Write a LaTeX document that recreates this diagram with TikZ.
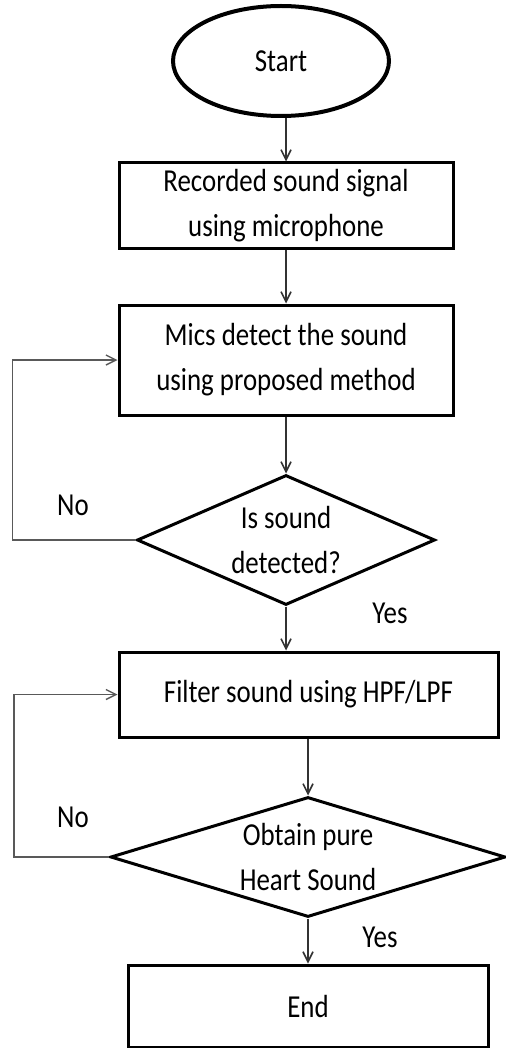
\documentclass[tikz,border=0pt]{standalone}
\usepackage{fontspec}
\setmainfont{Carlito}[FakeStretch=0.84]
\usetikzlibrary{shapes.geometric,arrows.meta,positioning}

\begin{document}
\begin{tikzpicture}[x=0.5pt,y=-0.5pt,
 font=\fontsize{16pt}{22.5pt}\selectfont,
 term/.style={draw,ellipse,line width=2pt,minimum width=108pt,minimum height=55pt,inner sep=0pt},
 proc/.style={draw,line width=1.5pt,align=center,inner sep=0pt},
 decide/.style={draw,diamond,line width=1.5pt,align=center,inner sep=-20pt},
 lbl/.style={inner sep=0pt},
 flow/.style={draw=black!80,line width=0.8pt,-{Straight Barb[length=5pt,width=5pt]}},
 backflow/.style={draw=black!65,line width=0.7pt,-{Straight Barb[length=5pt,width=5pt]}}]
\useasboundingbox (0,0) rectangle (505,1048);
\node[term] (start) at (281,61) {Start};
\node[proc,minimum width=167pt,minimum height=42.5pt] (rec) at (286,205.5) {Recorded sound signal\\using microphone};
\node[proc,minimum width=167pt,minimum height=55pt] (mics) at (286,360) {Mics detect the sound\\using proposed method};
\node[decide,minimum width=149pt,minimum height=65pt] (isdet) at (286,540) {Is sound\\detected?};
\node[proc,minimum width=189.5pt,minimum height=42.5pt] (filt) at (308.5,694.5) {Filter sound using HPF/LPF};
\node[decide,minimum width=197.5pt,minimum height=60pt] (pure) at (308,857) {Obtain pure\\Heart Sound};
\node[proc,minimum width=180pt,minimum height=41pt] (stop) at (308,1006) {End};
% labels
\node[lbl] (no1) at (73,505) {No};
\node[lbl] (yes1) at (390,613) {Yes};
\node[lbl] (no2) at (73,817) {No};
\node[lbl] (yes2) at (380,937) {Yes};
% connectors
\draw[flow] (rec.north |- start.south) -- (rec.north);
\draw[flow] (rec) -- (mics);
\draw[flow] (mics) -- (isdet);
\draw[flow] (isdet.south) -- (isdet.south |- filt.north);
\draw[flow] (filt.south -| pure.north) -- (pure.north);
\draw[flow] (pure) -- (stop);
\draw[backflow] (isdet.west) -- ++(-123,0) |- (mics.west);
\draw[backflow] (pure.west) -- ++(-95,0) |- (filt.west);
\end{tikzpicture}
\end{document}
